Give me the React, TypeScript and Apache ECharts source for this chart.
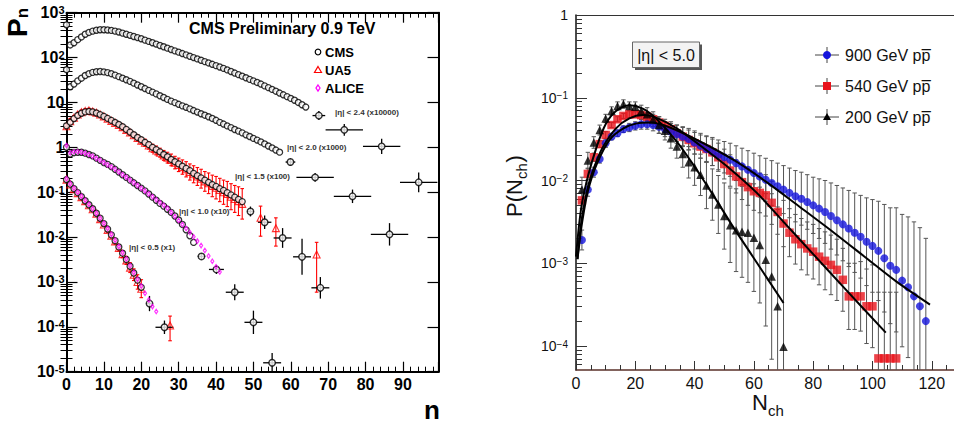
import React, { useEffect, useRef } from 'react';
import * as echarts from 'echarts';

const FONT = '"Liberation Sans", Arial, Helvetica, sans-serif';

// ================= LEFT PANEL : CMS Preliminary 0.9 TeV =================
// dense CMS points, value at n = index (0,1,2,...)
const cms24 = [537,191,214,251,288,331,363,389,407,417,417,412,403,389,372,351,331,313,295,279,263,245,229,214,200,186,174,162,151,141,132,123,115,107,100,93.3,87.1,81.3,75.9,70.8,66.1,61.7,57.5,53.1,49.0,45.2,41.7,38.5,35.5,32.7,30.2,27.9,25.7,23.4,21.4,19.5,17.8,16.2,14.8,13.5,12.3,11.2,10.0,8.9,7.9];
const cms20 = [53.7,22.4,25.7,30.2,34.7,39.8,43.7,46.8,48.4,49.0,47.9,46.2,43.7,40.7,37.6,34.7,32.0,29.5,26.9,24.5,22.4,20.4,18.6,17.0,15.5,14.1,12.9,11.7,10.7,9.9,9.1,8.4,7.8,7.2,6.6,6.1,5.6,5.2,4.8,4.4,4.0,3.6,3.3,3.0,2.75,2.5,2.3,2.1,1.9,1.74,1.58,1.45,1.32,1.19,1.07,0.97,0.87,0.78];
const cms15 = [3.02,3.63,4.37,5.13,5.75,6.17,6.31,6.17,5.82,5.37,4.90,4.42,3.98,3.59,3.24,2.88,2.51,2.19,1.91,1.66,1.48,1.29,1.15,1.0,0.891,0.794,0.692,0.617,0.537,0.479,0.427,0.380,0.339,0.302,0.263,0.234,0.209,0.186,0.166,0.148,0.135,0.120,0.110,0.0977,0.0871,0.0776,0.0692,0.0617];
const cms10 = [1.0,0.708,0.759,0.776,0.776,0.741,0.692,0.646,0.575,0.513,0.457,0.417,0.372,0.324,0.282,0.245,0.214,0.186,0.162,0.141,0.123,0.107,0.0912,0.0776,0.0661,0.0562,0.049,0.0417,0.0355,0.0295,0.024,0.0191,0.0145,0.0107,0.0076];
const cms05 = [0.191,0.151,0.120,0.0977,0.0794,0.0646,0.0525,0.0427,0.0339,0.0263,0.0200,0.0151,0.0112,0.00832,0.00603,0.00437,0.00316,0.00224,0.00158,0.00110,0.00076];

// CMS wide-bin tail points: centre, value, half width, error (dex)
const cms24TailN = [67.5, 74.3, 84.3, 94.2];
const cms24TailP = [5.1, 2.45, 1.05, 0.166];
const cms24TailW = [1.7, 5, 5, 5];
const cms24TailE = [0.1, 0.13, 0.17, 0.22];
const cms20TailN = [59.9, 66.5, 76.5, 86.4];
const cms20TailP = [0.47, 0.214, 0.081, 0.0115];
const cms20TailW = [1.3, 5, 5, 5];
const cms20TailE = [0.08, 0.1, 0.15, 0.25];
const cms15TailN = [49.2, 53, 57.8, 63, 67.9];
const cms15TailP = [0.0372, 0.0214, 0.00955, 0.00363, 0.00074];
const cms15TailW = [0.9, 1.8, 2.4, 2.4, 2.4];
const cms15TailE = [0.11, 0.15, 0.22, 0.4, 0.24];
const cms10TailN = [36.1, 40.1, 45, 50, 55];
const cms10TailP = [0.0037, 0.0019, 0.00059, 0.000126, 0.0000158];
const cms10TailW = [1, 2, 2.4, 2.4, 2.4];
const cms10TailE = [0.06, 0.1, 0.18, 0.26, 0.22];
const cms05TailN = [22.2, 26.2];
const cms05TailP = [0.00033, 0.0000977];
const cms05TailW = [0.9, 2.4];
const cms05TailE = [0.17, 0.15];

// UA5 (red open triangles)
const ua5_15 = [2.95,3.80,4.57,5.37,6.03,6.46,6.61,6.31,5.89,5.37,4.90,4.37,3.89,3.51,3.16,2.82,2.45,2.14,1.86,1.62,1.41,1.26,1.10,0.955,0.851,0.759,0.661,0.589,0.525,0.457,0.407,0.363,0.324,0.282,0.251,0.224,0.200,0.174,0.158,0.138,0.126,0.112,0.100,0.0912,0.0794,0.0708,0.0631,0.0550];
const ua5_15Err = [0.06,0.06,0.05,0.05,0.05,0.05,0.05,0.05,0.05,0.03,0.03,0.03,0.04,0.04,0.04,0.05,0.05,0.06,0.06,0.07,0.07,0.08,0.08,0.09,0.1,0.1,0.11,0.12,0.13,0.14,0.15,0.16,0.17,0.18,0.19,0.2,0.21,0.22,0.23,0.24,0.25,0.26,0.27,0.28,0.29,0.3,0.32,0.34];
const ua5_15TailN = [51.9, 56, 66.9];
const ua5_15TailP = [0.0269, 0.0158, 0.0041];
const ua5_15TailUp = [0.26, 0.23, 0.27];
const ua5_15TailDn = [0.41, 0.40, 0.84];
const ua5_05 = [0.191,0.148,0.117,0.0955,0.0776,0.0631,0.0513,0.0417,0.0331,0.0251,0.0191,0.0145,0.0107,0.00794,0.00575,0.00417,0.00302,0.00209,0.00145,0.0010,0.000708];
const ua5_05Err = [0.02,0.02,0.02,0.02,0.02,0.02,0.03,0.03,0.03,0.04,0.04,0.05,0.05,0.06,0.07,0.08,0.09,0.11,0.13,0.16,0.2];
const ua5_05TailN = [27.7];
const ua5_05TailP = [0.000107];
const ua5_05TailUp = [0.21];
const ua5_05TailDn = [0.34];

// ALICE (magenta open diamonds)
const alice10 = [1.10,0.759,0.794,0.794,0.776,0.741,0.692,0.631,0.562,0.513,0.457,0.407,0.363,0.324,0.282,0.245,0.214,0.186,0.162,0.141,0.123,0.107,0.0912,0.0794,0.0676,0.0589,0.0513,0.0437,0.0355,0.0288,0.0234,0.0191,0.0155,0.0126,0.0102,0.00813,0.00646,0.00501,0.0038,0.00288,0.00219,0.00166];
const alice05 = [0.200,0.155,0.123,0.100,0.0813,0.0661,0.0537,0.0427,0.0339,0.0263,0.0204,0.0155,0.0115,0.00851,0.00617,0.00447,0.00324,0.00229,0.00162,0.00115,0.00081,0.000562,0.000398,0.000282,0.000219];

const leftXTicks = [0, 10, 20, 30, 40, 50, 60, 70, 80, 90];

// ================= RIGHT PANEL : P(Nch), |eta| < 5.0 =================
const nchStep = 2; // points at Nch = 2, 4, 6, ...
const p900 = [0.00191,0.00776,0.0126,0.0182,0.0282,0.0339,0.0372,0.0417,0.0437,0.0457,0.0479,0.0479,0.0468,0.0447,0.0417,0.0389,0.0363,0.0339,0.0316,0.0288,0.0263,0.0240,0.0224,0.0204,0.0191,0.0178,0.0162,0.0148,0.0135,0.0123,0.0112,0.0102,0.00933,0.00851,0.00776,0.00708,0.00646,0.00603,0.00550,0.00501,0.00457,0.00417,0.00372,0.00331,0.00295,0.00263,0.00234,0.00209,0.00182,0.00162,0.00141,0.00115,0.000933,0.000832,0.000617,0.000513,0.000398,0.000302,0.000200];
const e900 = [0.12,0.08,0.06,0.05,0.05,0.04,0.04,0.04,0.05,0.05,0.06,0.06,0.07,0.08,0.09,0.10,0.11,0.12,0.13,0.14,0.15,0.16,0.17,0.18,0.19,0.20,0.21,0.22,0.23,0.24,0.25,0.26,0.27,0.28,0.29,0.30,0.31,0.32,0.33,0.34,0.36,0.38,0.40,0.42,0.44,0.46,0.48,0.50,0.53,0.56,0.60,0.65,0.70,0.75,0.80,0.85,0.90,0.95,1.0];
const p540 = [0.00575,0.0120,0.0191,0.0275,0.0355,0.0468,0.0550,0.0603,0.0631,0.0631,0.0617,0.0589,0.0550,0.0501,0.0457,0.0417,0.0372,0.0339,0.0309,0.0282,0.0257,0.0240,0.0219,0.0191,0.0158,0.0132,0.0112,0.00955,0.00832,0.00741,0.00708,0.00661,0.00537,0.00417,0.00302,0.00234,0.00195,0.00170,0.00151,0.00138,0.00120,0.00107,0.000955,0.000832,0.000631,0.000398,0.000398,0.000398,0.000302,0.000302,0.0000708,0.0000708,0.0000708,0.0000708];
const e540 = [0.1,0.07,0.05,0.04,0.04,0.03,0.03,0.03,0.04,0.04,0.05,0.05,0.06,0.07,0.08,0.09,0.1,0.11,0.12,0.13,0.14,0.15,0.16,0.17,0.18,0.19,0.2,0.21,0.22,0.23,0.24,0.25,0.26,0.27,0.28,0.29,0.3,0.31,0.32,0.33,0.34,0.35,0.36,0.37,0.38,0.4,0.4,0.42,0.45,0.5,0.8,0.8,0.8,0.8];
const p200 = [0.00776,0.0174,0.0288,0.0407,0.0562,0.0692,0.0794,0.0841,0.0794,0.0776,0.0692,0.0631,0.0550,0.0468,0.0398,0.0324,0.0257,0.0209,0.0166,0.0145,0.0117,0.00871,0.00676,0.00513,0.00372,0.00288,0.00251,0.00240,0.00234,0.00204,0.00166,0.00110,0.000692,0.000302,0.0000977];
const e200 = [0.15,0.1,0.07,0.06,0.05,0.05,0.05,0.05,0.05,0.06,0.07,0.08,0.09,0.1,0.11,0.12,0.14,0.16,0.19,0.22,0.25,0.28,0.31,0.35,0.4,0.45,0.5,0.55,0.6,0.65,0.7,0.8,1.0,1.2,1.5];
// fit curves
const fit900N = [0.5,1,2,4,7,11.5,16,20.5,25,31.7,43,54,64.3,75.5,87,98,108,119.4];
const fit900P = [0.00112,0.00158,0.00302,0.00741,0.0158,0.0316,0.0427,0.0490,0.0501,0.0437,0.0282,0.0170,0.00955,0.00479,0.00234,0.00115,0.000603,0.000316];
const fit540N = [0.5,1,2,4,6,9,13.5,18,22.5,27,34,42,52,61,70,80,90,104.5];
const fit540P = [0.00112,0.00178,0.00355,0.00832,0.0141,0.0251,0.0427,0.0562,0.0617,0.0575,0.0427,0.0263,0.0138,0.00708,0.00316,0.00129,0.000525,0.000145];
const fit200N = [0,1,2,4,7,10,13.5,18,22.5,27,34,40.7,47.4,53,60,70];
const fit200P = [0.00120,0.00282,0.00525,0.0112,0.0257,0.0479,0.0692,0.0813,0.0741,0.0562,0.0295,0.0135,0.00575,0.00275,0.00115,0.000331];

const rightYMin = -4.29;
const rightDecades = [-4, -3, -2, -1, 0];

// ---------------- helpers ----------------
const lg = (v: number) => Math.log10(v);
const dense = (arr: number[], step = 1, start = 0) => arr.map((p, i) => [start + i * step, lg(p)]);
const pts = (xs: number[], ps: number[]) => xs.map((x, i) => [x, lg(ps[i])]);
function errData(xs: number[], ps: number[], up: number[], dn: number[], hw: number[] | null, yMin: number) {
  return xs.map((x, i) => {
    const L = lg(ps[i]);
    let lo = L - dn[i];
    let clipped = 0;
    if (lo < yMin) { lo = yMin; clipped = 1; }
    const w = hw ? hw[i] : 0;
    return [x, L, lo, L + up[i], x - w, x + w, clipped];
  });
}
const idx = (arr: number[], step = 1, start = 0) => arr.map((_, i) => start + i * step);

function makeErrRender(color: string, lw: number, cap: number) {
  return (_params: any, api: any) => {
    const x = api.value(0), y = api.value(1), lo = api.value(2), hi = api.value(3);
    const xl = api.value(4), xr = api.value(5), clipped = api.value(6);
    const st = { stroke: color, lineWidth: lw };
    const children: any[] = [];
    const a = api.coord([x, lo]);
    const b = api.coord([x, hi]);
    children.push({ type: 'line', shape: { x1: a[0], y1: a[1], x2: b[0], y2: b[1] }, style: st });
    if (cap > 0) {
      children.push({ type: 'line', shape: { x1: b[0] - cap, y1: b[1], x2: b[0] + cap, y2: b[1] }, style: st });
      if (!clipped) children.push({ type: 'line', shape: { x1: a[0] - cap, y1: a[1], x2: a[0] + cap, y2: a[1] }, style: st });
    }
    if (xr > xl) {
      const c = api.coord([xl, y]);
      const d = api.coord([xr, y]);
      children.push({ type: 'line', shape: { x1: c[0], y1: c[1], x2: d[0], y2: d[1] }, style: st });
    }
    return { type: 'group', children };
  };
}

function minorTicks(dMin: number, dMax: number, lo: number) {
  const out: number[] = [];
  for (let d = dMin; d < dMax; d++) for (let k = 2; k <= 9; k++) { const v = d + Math.log10(k); if (v >= lo) out.push(v); }
  return out;
}

export default function App() {
  const ref = useRef<HTMLDivElement>(null);
  useEffect(() => {
    if (!ref.current) return;
    const chart = echarts.init(ref.current, null, { renderer: 'svg' });

    const leftRich = {
      b: { fontFamily: FONT, fontWeight: 'bold', fontSize: 16, color: '#000', padding: [4, 0, 0, 0], lineHeight: 16, verticalAlign: 'bottom' },
      s: { fontFamily: FONT, fontWeight: 'bold', fontSize: 11, color: '#000', lineHeight: 11, verticalAlign: 'top' },
    };
    const rightRich = {
      b: { fontFamily: FONT, fontSize: 14, color: '#111', padding: [4, 0, 0, 0], lineHeight: 14, verticalAlign: 'bottom' },
      s: { fontFamily: FONT, fontSize: 10, color: '#111', lineHeight: 10, verticalAlign: 'top' },
    };

    const cmsTailErr = [
      ...errData(cms24TailN, cms24TailP, cms24TailE, cms24TailE, cms24TailW, -5),
      ...errData(cms20TailN, cms20TailP, cms20TailE, cms20TailE, cms20TailW, -5),
      ...errData(cms15TailN, cms15TailP, cms15TailE, cms15TailE, cms15TailW, -5),
      ...errData(cms10TailN, cms10TailP, cms10TailE, cms10TailE, cms10TailW, -5),
      ...errData(cms05TailN, cms05TailP, cms05TailE, cms05TailE, cms05TailW, -5),
    ];
    const ua5Err = [
      ...errData(idx(ua5_15), ua5_15, ua5_15Err, ua5_15Err, null, -5),
      ...errData(ua5_15TailN, ua5_15TailP, ua5_15TailUp, ua5_15TailDn, null, -5),
      ...errData(idx(ua5_05), ua5_05, ua5_05Err, ua5_05Err, null, -5),
      ...errData(ua5_05TailN, ua5_05TailP, ua5_05TailUp, ua5_05TailDn, null, -5),
    ];
    const rightErr = [
      ...errData(idx(p540, nchStep, nchStep), p540, e540, e540, null, rightYMin),
      ...errData(idx(p900, nchStep, nchStep), p900, e900, e900, null, rightYMin),
      ...errData(idx(p200, nchStep, nchStep), p200, e200, e200, null, rightYMin),
    ];

    const cmsStyle = { color: '#fff', borderColor: '#000', borderWidth: 1.3 };
    const L = { xAxisIndex: 0, yAxisIndex: 0 };
    const R = { xAxisIndex: 2, yAxisIndex: 4 };

    const txt = (x: number, y: number, text: string, size: number, extra: any = {}) => ({
      type: 'text', x, y, z: 100,
      style: { text, fontFamily: FONT, fontSize: size, fill: '#000', textAlign: 'left', textVerticalAlign: 'middle', ...extra },
    });
    const ann = (x: number, y: number, text: string) => txt(x, y, text, 8, { fontWeight: 'bold', fill: '#333' });

    const legendRow = (y: number, marker: any, label: string) => [
      { type: 'line', z: 100, shape: { x1: 815, y1: y, x2: 839, y2: y }, style: { stroke: '#444', lineWidth: 1 } },
      { type: 'line', z: 100, shape: { x1: 827, y1: y - 8, x2: 827, y2: y + 8 }, style: { stroke: '#444', lineWidth: 1 } },
      { ...marker, z: 101 },
      txt(845, y, label, 16, { fill: '#111' }),
    ];

    const option: any = {
      animation: false,
      backgroundColor: '#fff',
      grid: [
        { left: 66.5, top: 12.7, width: 372, height: 359 },
        { left: 576, top: 15, width: 378, height: 355 },
      ],
      xAxis: [
        {
          gridIndex: 0, type: 'value', min: 0, max: 99.5, interval: 10, position: 'bottom',
          axisLine: { onZero: false, lineStyle: { color: '#000', width: 2 } },
          axisTick: { inside: true, length: 10, lineStyle: { color: '#000', width: 1.2 } },
          minorTick: { show: true, splitNumber: 5, length: 5, lineStyle: { color: '#000', width: 1 } },
          axisLabel: { fontFamily: FONT, fontWeight: 'bold', fontSize: 16, color: '#000', margin: 5, customValues: leftXTicks },
          splitLine: { show: false },
        },
        {
          gridIndex: 0, type: 'value', min: 0, max: 99.5, interval: 10, position: 'top',
          axisLine: { onZero: false, lineStyle: { color: '#000', width: 2 } },
          axisTick: { inside: true, length: 10, lineStyle: { color: '#000', width: 1.2 } },
          minorTick: { show: true, splitNumber: 5, length: 5, lineStyle: { color: '#000', width: 1 } },
          axisLabel: { show: false }, splitLine: { show: false },
        },
        {
          gridIndex: 1, type: 'value', min: 0, max: 127.5, interval: 20, position: 'bottom',
          axisLine: { onZero: false, lineStyle: { color: '#5a3028', width: 1.5 } },
          axisTick: { inside: true, length: 9, lineStyle: { color: '#333', width: 1 } },
          minorTick: { show: true, splitNumber: 4, length: 5, lineStyle: { color: '#333', width: 1 } },
          axisLabel: { fontFamily: FONT, fontSize: 16, lineHeight: 14, color: '#111', margin: 6, showMaxLabel: false },
          splitLine: { show: false },
        },
        {
          gridIndex: 1, type: 'value', min: 0, max: 127.5, position: 'top',
          axisLine: { onZero: false, lineStyle: { color: '#333', width: 1 } },
          axisTick: { show: false }, axisLabel: { show: false }, splitLine: { show: false },
        },
      ],
      yAxis: [
        {
          gridIndex: 0, type: 'value', min: -5, max: 3, interval: 1, position: 'left',
          axisLine: { onZero: false, lineStyle: { color: '#000', width: 2 } },
          axisTick: { inside: true, length: 11, lineStyle: { color: '#000', width: 1.2 } },
          axisLabel: {
            margin: 2, rich: leftRich,
            formatter: (v: number) => { const e = Math.round(v); if (e === 0) return '{b|1}'; if (e === 1) return '{b|10}'; return `{b|10}{s|${e}}`; },
          },
          splitLine: { show: false },
        },
        {
          gridIndex: 0, type: 'value', min: -5, max: 3, interval: 1, position: 'right',
          axisLine: { onZero: false, lineStyle: { color: '#000', width: 2 } },
          axisTick: { inside: true, length: 11, lineStyle: { color: '#000', width: 1.2 } },
          axisLabel: { show: false }, splitLine: { show: false },
        },
        {
          gridIndex: 0, type: 'value', min: -5, max: 3, position: 'left',
          axisLine: { show: false },
          axisTick: { inside: true, length: 6, customValues: minorTicks(-5, 3, -5), lineStyle: { color: '#000', width: 1 } },
          axisLabel: { show: false }, splitLine: { show: false },
        },
        {
          gridIndex: 0, type: 'value', min: -5, max: 3, position: 'right',
          axisLine: { show: false },
          axisTick: { inside: true, length: 6, customValues: minorTicks(-5, 3, -5), lineStyle: { color: '#000', width: 1 } },
          axisLabel: { show: false }, splitLine: { show: false },
        },
        {
          gridIndex: 1, type: 'value', min: rightYMin, max: 0, position: 'left',
          axisLine: { onZero: false, lineStyle: { color: '#111', width: 1.5 } },
          axisTick: { inside: true, length: 11, customValues: rightDecades, lineStyle: { color: '#333', width: 1 } },
          axisLabel: {
            margin: 8, rich: rightRich, customValues: rightDecades,
            formatter: (v: number) => { const e = Math.round(v); if (e === 0) return '{b|1}'; return `{b|10}{s|\u2212${-e}}`; },
          },
          splitLine: { show: false },
        },
        {
          gridIndex: 1, type: 'value', min: rightYMin, max: 0, position: 'left',
          axisLine: { show: false },
          axisTick: { inside: true, length: 6, customValues: minorTicks(-5, 0, rightYMin), lineStyle: { color: '#333', width: 1 } },
          axisLabel: { show: false }, splitLine: { show: false },
        },
      ],
      series: [
        // ---------- left ----------
        { type: 'custom', ...L, renderItem: makeErrRender('#ff0000', 1.1, 1.8), data: ua5Err, silent: true },
        { type: 'scatter', ...L, symbol: 'triangle', symbolSize: 7, data: [...dense(ua5_15), ...pts(ua5_15TailN, ua5_15TailP), ...dense(ua5_05), ...pts(ua5_05TailN, ua5_05TailP)],
          itemStyle: { color: 'rgba(0,0,0,0)', borderColor: '#ff0000', borderWidth: 1.1 }, silent: true },
        { type: 'custom', ...L, renderItem: makeErrRender('#000', 1.3, 0), data: cmsTailErr, silent: true },
        { type: 'scatter', ...L, symbol: 'circle', symbolSize: 6, itemStyle: cmsStyle, silent: true,
          data: [...dense(cms24), ...dense(cms20), ...dense(cms15), ...dense(cms10), ...dense(cms05)] },
        { type: 'scatter', ...L, symbol: 'circle', symbolSize: 6.5, itemStyle: { ...cmsStyle, borderWidth: 1.4 }, silent: true,
          data: [...pts(cms24TailN, cms24TailP), ...pts(cms20TailN, cms20TailP), ...pts(cms15TailN, cms15TailP), ...pts(cms10TailN, cms10TailP), ...pts(cms05TailN, cms05TailP)] },
        { type: 'scatter', ...L, symbol: 'diamond', symbolSize: [3, 4.5], silent: true,
          itemStyle: { color: 'rgba(0,0,0,0)', borderColor: '#ff00ff', borderWidth: 1.2 },
          data: [...dense(alice10), ...dense(alice05)] },
        // ---------- right ----------
        { type: 'custom', ...R, renderItem: makeErrRender('#555', 1, 2.2), data: rightErr, silent: true },
        { type: 'scatter', ...R, symbol: 'rect', symbolSize: 8.5, itemStyle: { color: '#e8141c' }, silent: true, data: dense(p540, nchStep, nchStep) },
        { type: 'scatter', ...R, symbol: 'circle', symbolSize: 8, itemStyle: { color: '#1414dc' }, silent: true, data: dense(p900, nchStep, nchStep) },
        { type: 'scatter', ...R, symbol: 'triangle', symbolSize: 8.5, itemStyle: { color: '#000' }, silent: true, data: dense(p200, nchStep, nchStep) },
        { type: 'line', ...R, data: pts(fit900N, fit900P), smooth: 0.3, showSymbol: false, lineStyle: { color: '#000', width: 2 }, silent: true },
        { type: 'line', ...R, data: pts(fit540N, fit540P), smooth: 0.3, showSymbol: false, lineStyle: { color: '#000', width: 2 }, silent: true },
        { type: 'line', ...R, data: pts(fit200N, fit200P), smooth: 0.3, showSymbol: false, lineStyle: { color: '#000', width: 2 }, silent: true },
      ],
      graphic: [
        // left titles
        {
          type: 'text', x: 31, y: 37, rotation: Math.PI / 2, z: 100,
          style: {
            text: '{p|P}{n|n}', textAlign: 'left', textVerticalAlign: 'bottom',
            rich: {
              p: { fontFamily: FONT, fontWeight: 'bold', fontSize: 28, fill: '#000', lineHeight: 28 },
              n: { fontFamily: FONT, fontWeight: 'bold', fontSize: 17, fill: '#000', lineHeight: 17, verticalAlign: 'bottom' },
            },
          },
        },
        txt(432, 410, 'n', 26, { fontWeight: 'bold', textAlign: 'center' }),
        txt(189, 28, 'CMS Preliminary 0.9 TeV', 16, { fontWeight: 'bold' }),
        { type: 'circle', z: 100, shape: { cx: 318, cy: 52, r: 2.8 }, style: { fill: '#fff', stroke: '#000', lineWidth: 1.2 } },
        txt(325, 52, 'CMS', 13, { fontWeight: 'bold' }),
        { type: 'polygon', z: 100, shape: { points: [[318, 66.5], [321.5, 72.5], [314.5, 72.5]] }, style: { fill: 'none', stroke: '#ff0000', lineWidth: 1.2 } },
        txt(325, 70, 'UA5', 13, { fontWeight: 'bold' }),
        { type: 'polygon', z: 100, shape: { points: [[318, 85], [320, 88], [318, 91], [316, 88]] }, style: { fill: 'none', stroke: '#ff00ff', lineWidth: 1.3 } },
        txt(325, 88, 'ALICE', 13, { fontWeight: 'bold' }),
        ann(335, 112, '|\u03b7| < 2.4 (x10000)'),
        ann(287, 147, '|\u03b7| < 2.0 (x1000)'),
        ann(235, 176, '|\u03b7| < 1.5 (x100)'),
        ann(179, 211, '|\u03b7| < 1.0 (x10)'),
        ann(129, 247, '|\u03b7| < 0.5 (x1)'),
        // right panel
        { type: 'rect', z: 99, shape: { x: 635, y: 44.5, width: 67, height: 25.5 }, style: { fill: '#555' } },
        { type: 'rect', z: 100, shape: { x: 632.5, y: 42, width: 67, height: 25.5 }, style: { fill: '#f3f3f3', stroke: '#666', lineWidth: 1 } },
        txt(666, 55, '|\u03b7| < 5.0', 16, { textAlign: 'center', fill: '#111' }),
        // y title P(N_ch), rotated; subscript is offset in the local frame
        {
          type: 'group', x: 514, y: 186, rotation: Math.PI / 2, z: 100,
          children: [
            { type: 'text', x: -31, y: 0, z: 100, style: { text: 'P(N', fontFamily: FONT, fontSize: 22, fill: '#111', textAlign: 'left', textVerticalAlign: 'middle' } },
            { type: 'text', x: 7, y: 7, z: 100, style: { text: 'ch', fontFamily: FONT, fontSize: 15, fill: '#111', textAlign: 'left', textVerticalAlign: 'middle' } },
            { type: 'text', x: 23.5, y: 0, z: 100, style: { text: ')', fontFamily: FONT, fontSize: 22, fill: '#111', textAlign: 'left', textVerticalAlign: 'middle' } },
          ],
        },
        txt(752, 402, 'N', 22, { fill: '#111', lineHeight: 18 }),
        txt(768, 410, 'ch', 15, { fill: '#111', lineHeight: 13 }),
        ...legendRow(55, { type: 'circle', shape: { cx: 827, cy: 55, r: 4 }, style: { fill: '#1414dc' } }, '900 GeV pp\u0305'),
        ...legendRow(86, { type: 'rect', shape: { x: 823, y: 82, width: 8, height: 8 }, style: { fill: '#e8141c' } }, '540 GeV pp\u0305'),
        ...legendRow(117, { type: 'polygon', shape: { points: [[827, 113], [831, 120], [823, 120]] }, style: { fill: '#000' } }, '200 GeV pp\u0305'),
      ],
    };
    chart.setOption(option);
    return () => chart.dispose();
  }, []);
  return <div ref={ref} style={{ position: 'absolute', left: 0, top: 0, width: 954, height: 426, background: '#fff' }} />;
}
